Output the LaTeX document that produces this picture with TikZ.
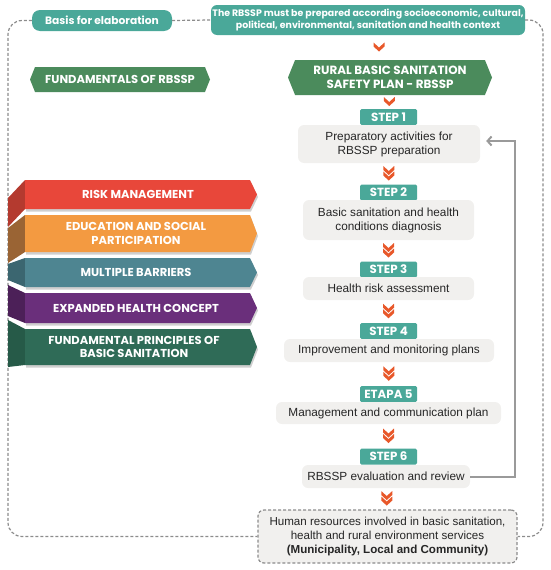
\documentclass[tikz,border=0pt]{standalone}
\usepackage{fontspec}
\setmainfont{Liberation Sans}
\newfontfamily\hfont{Poppins}
\usetikzlibrary{shapes.symbols,calc,arrows.meta}
\definecolor{cteal}{HTML}{4AA899}
\definecolor{cgreen}{HTML}{4B8B5C}
\definecolor{corange}{HTML}{E8582A}
\definecolor{cbox}{HTML}{F1F0EE}
\definecolor{cdash}{HTML}{8C8C8C}
\definecolor{carrow}{HTML}{9A9A9A}
\definecolor{cshadow}{HTML}{CFCFCF}
\definecolor{redF}{HTML}{E8473A}\definecolor{redS}{HTML}{B43A2F}
\definecolor{oraF}{HTML}{F39A41}\definecolor{oraS}{HTML}{9A6434}
\definecolor{bluF}{HTML}{4E8591}\definecolor{bluS}{HTML}{3B6670}
\definecolor{purF}{HTML}{6A2F7B}\definecolor{purS}{HTML}{4C2058}
\definecolor{grnF}{HTML}{2F6B57}\definecolor{grnS}{HTML}{265A48}
\newcommand\mybandpoly[3]{% top, bottom, front colour
  \fill[cshadow] (26,#1+2.5) -- (251,#1+2.5) -- (258,{(#1+#2)/2+2.5}) -- (251,#2+2.5) -- (26,#2+2.5) -- cycle;
  \fill[#3] (25,#1) -- (250,#1) -- (257,{(#1+#2)/2}) -- (250,#2) -- (25,#2) -- cycle;}
\tikzset{
  hd/.style={font=\hfont\bfseries\fontsize{#1}{#1}\selectfont, text=white},
  pill/.style={fill=cteal, rounded corners=8pt, hd=10.7, inner sep=0pt},
  hexa/.style={shape=signal, signal to=east and west, signal pointer angle=136,
     fill=cgreen, hd=11.5, inner sep=0pt, align=center},
  steptab/.style={fill=cteal, rounded corners=1.5pt, hd=11.8, minimum width=57pt,
     minimum height=16pt, inner sep=0pt},
  stepbox/.style={fill=cbox, rounded corners=6pt, inner sep=0pt, align=center,
     font=\fontsize{11.8}{14}\selectfont, text=black!85},
  bandtext/.style={inner sep=0pt, align=center, text=white,
     font=\hfont\bfseries\fontsize{11.5}{13.8}\selectfont},
  loopline/.style={draw=cdash, line width=1.2pt, dash pattern=on 3pt off 2pt},
  fbline/.style={draw=carrow, line width=2pt, -{Straight Barb[length=4pt,width=9pt,line width=2pt]}},
  chev/.pic={\fill[corange] (-5.5,-5) -- (0,0) -- (5.5,-5) -- (5.5,-1) -- (0,4) -- (-5.5,-1) -- cycle;},
  dchev/.pic={\pic at (0,-2.75) {chev}; \pic at (0,2.75) {chev};}
}
\begin{document}
\begin{tikzpicture}[x=1pt,y=-1pt]
\useasboundingbox (0,0) rectangle (550,570);
% top nodes
\node[pill, minimum width=140pt, minimum height=21pt] (basis) at (102,20.5) {Basis for elaboration};
\node[fill=cteal, rounded corners=6pt, inner sep=0pt, minimum width=314pt, minimum height=30pt, align=center,
  text=white, font=\hfont\bfseries\fontsize{9.4}{12}\selectfont] (ctx) at (368,20)
  {The RBSSP must be prepared according socioeconomic, cultural,\\political, environmental, sanitation and health context};
\node[hexa, minimum width=180pt, minimum height=25pt] (fund) at (120,79.5) {FUNDAMENTALS OF RBSSP};
\node[hexa, minimum width=204pt, minimum height=35pt, font=\hfont\bfseries\fontsize{11.9}{13.5}\selectfont] (plan) at (390,77.5)
  {RURAL BASIC SANITATION\\SAFETY PLAN - RBSSP};
% steps
\node[steptab] (t1) at (388.5,117) {STEP 1};
\node[stepbox, minimum width=182pt, minimum height=38pt] (s1) at (389,144) {Preparatory activities for\\RBSSP preparation};
\node[steptab] (t2) at (388.5,192.5) {STEP 2};
\node[stepbox, minimum width=171pt, minimum height=40pt] (s2) at (388.5,220) {Basic sanitation and health\\conditions diagnosis};
\node[steptab] (t3) at (388.5,269.5) {STEP 3};
\node[stepbox, minimum width=171pt, minimum height=23pt] (s3) at (388.5,288.5) {Health risk assessment};
\node[steptab] (t4) at (388.5,331) {STEP 4};
\node[stepbox, minimum width=210pt, minimum height=23pt] (s4) at (389,350.5) {Improvement and monitoring plans};
\node[steptab] (t5) at (388.5,394) {ETAPA 5};
\node[stepbox, minimum width=225pt, minimum height=22pt] (s5) at (388.5,413) {Management and communication plan};
\node[steptab] (t6) at (388.5,456.5) {STEP 6};
\node[stepbox, minimum width=168pt, minimum height=23pt] (s6) at (386,476.5) {RBSSP evaluation and review};
\node[stepbox, draw=cdash, line width=1.2pt, dash pattern=on 3pt off 2pt, minimum width=259pt, minimum height=53pt,
  font=\fontsize{11.6}{13.6}\selectfont] (hr) at (387.5,536.5)
  {Human resources involved in basic sanitation,\\health and rural environment services\\\textbf{(Municipality, Local and Community)}};
% chevrons
\pic at ($(ctx.south)!0.5!(plan.north)$) {chev};
\pic at ($(plan.south)!0.5!(t1.north)$) {chev};
\pic at ($(s1.south)!0.5!(t2.north)$) {dchev};
\pic at ($(s2.south)!0.5!(t3.north)$) {dchev};
\pic at ($(s3.south)!0.5!(t4.north)$) {dchev};
\pic at ($(s4.south)!0.5!(t5.north)$) {dchev};
\pic at ($(s5.south)!0.5!(t6.north)$) {dchev};
\pic at ($(s6.south)!0.5!(hr.north)$) {dchev};
% connectors
\coordinate (lx) at (8,300);
\coordinate (rx) at (543,300);
\draw[loopline] (basis.east) -- (ctx.west);
\draw[loopline, rounded corners=14pt] (basis.west) -| (lx) |- (hr.west);
\draw[loopline, rounded corners=14pt] (ctx.east) -| (rx) |- (hr.east);
\draw[fbline] (s6.east) -- ++(45,0) |- ([shift={(6pt,3pt)}]s1.east);
% bands: sides
\fill[redS] (25,180) -- (8,198) -- (8,227) -- (25,209) -- cycle;
\fill[oraS] (25,215) -- (8,228) -- (8,263) -- (25,252) -- cycle;
\fill[bluS] (25,258) -- (8,264) -- (8,280) -- (25,287) -- cycle;
\fill[purS] (25,293) -- (8,285) -- (8,316) -- (25,323) -- cycle;
\fill[grnS] (25,329) -- (8,320) -- (8,367) -- (25,365) -- cycle;
% bands: fronts
\mybandpoly{180}{209}{redF}
\mybandpoly{215}{252}{oraF}
\mybandpoly{258}{287}{bluF}
\mybandpoly{293}{323}{purF}
\mybandpoly{329}{365}{grnF}
\node[bandtext] (b1) at (138,194.5) {RISK MANAGEMENT};
\node[bandtext] (b2) at (136,233.5) {EDUCATION AND SOCIAL\\PARTICIPATION};
\node[bandtext] (b3) at (136,272.5) {MULTIPLE BARRIERS};
\node[bandtext] (b4) at (136,308) {EXPANDED HEALTH CONCEPT};
\node[bandtext] (b5) at (134,347) {FUNDAMENTAL PRINCIPLES OF\\BASIC SANITATION};
\end{tikzpicture}
\end{document}
